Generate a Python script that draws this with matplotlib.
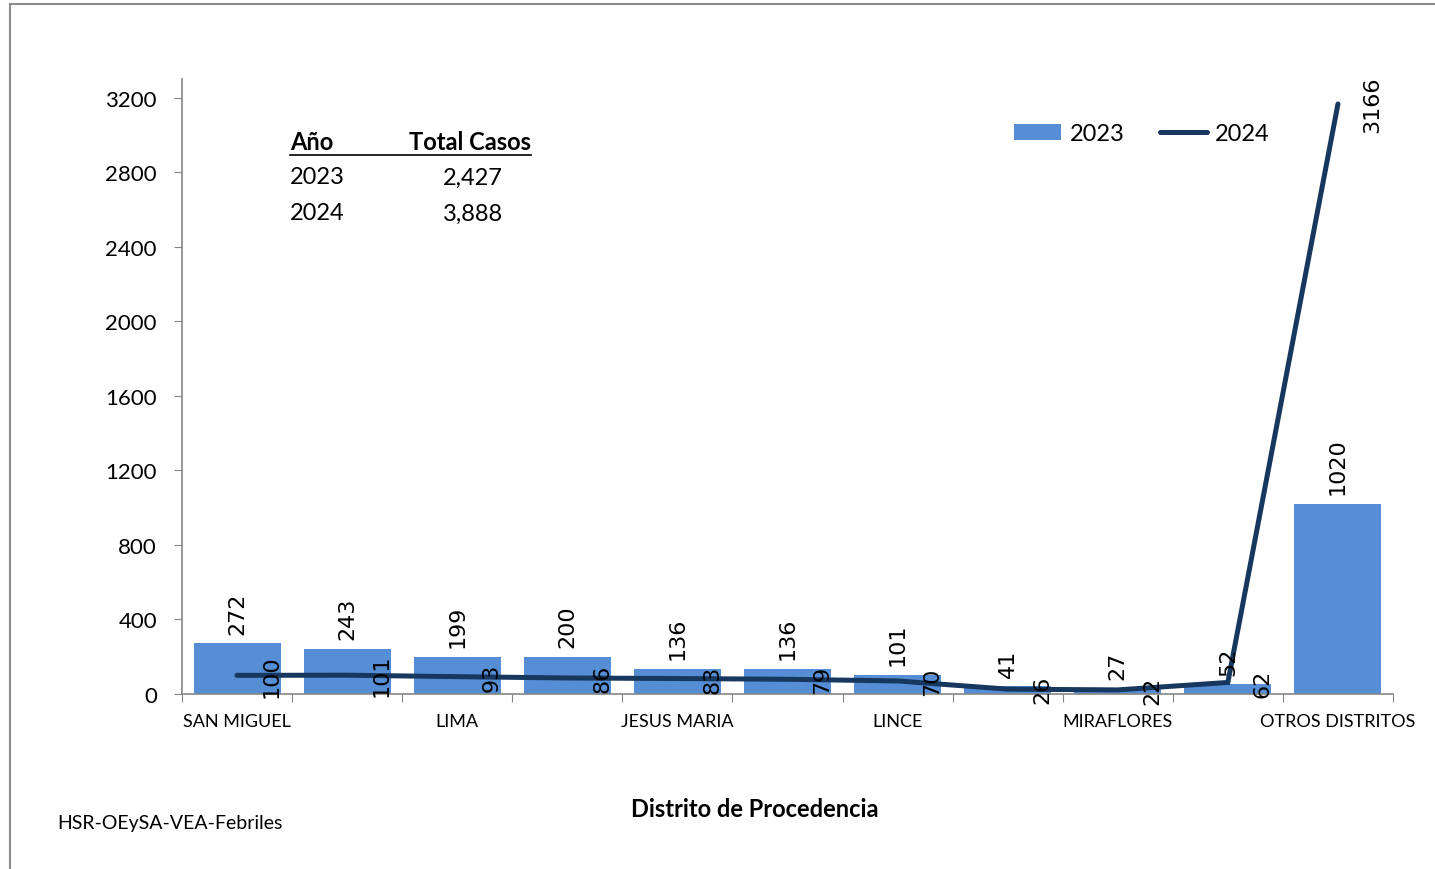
import matplotlib
matplotlib.use("Agg")
import matplotlib.pyplot as plt
from matplotlib.lines import Line2D
from matplotlib.patches import Patch

# ------------------------------------------------------------
# Data
# ------------------------------------------------------------
districts = [
    "SAN MIGUEL", "BREÑA", "LIMA", "PUEBLO LIBRE", "JESUS MARIA",
    "LA VICTORIA", "LINCE", "SAN ISIDRO", "MIRAFLORES", "SURQUILLO",
    "OTROS DISTRITOS",
]
cases_2023 = [272, 243, 199, 200, 136, 136, 101, 41, 27, 52, 1020]
cases_2024 = [100, 101, 93, 86, 83, 79, 70, 26, 22, 62, 3166]
years = ["2023", "2024"]
totals = ["2,427", "3,888"]
y_ticks = [0, 400, 800, 1200, 1600, 2000, 2400, 2800, 3200]

BAR_COLOR = "#558ED5"
LINE_COLOR = "#17375E"
AXIS_COLOR = "#868686"
FONT = "Lato"

plt.rcParams["font.family"] = [FONT, "DejaVu Sans"]

fig = plt.figure(figsize=(14.35, 8.7), dpi=100)
ax = fig.add_axes([182 / 1435, 1 - 695 / 870, (1393 - 182) / 1435, (695 - 80) / 870])

x = list(range(len(districts)))

ax.bar(x, cases_2023, width=0.79, color=BAR_COLOR, zorder=2)
ax.plot(x, cases_2024, color=LINE_COLOR, linewidth=3.6,
        solid_capstyle="round", solid_joinstyle="miter", zorder=3)

# data labels
for i, v in enumerate(cases_2023):
    ax.annotate(str(v), (i, v), xytext=(0, 7), textcoords="offset points",
                rotation=90, ha="center", va="bottom", fontsize=16,
                family="DejaVu Sans", zorder=4)
for i, v in enumerate(cases_2024):
    ax.annotate(str(v), (i, v), xytext=(25, 0), textcoords="offset points",
                rotation=90, ha="center", va="center", fontsize=16,
                family="DejaVu Sans", zorder=4)

ax.set_xlim(-0.5, len(districts) - 0.5)
ax.set_ylim(0, 3300)
ax.set_yticks(y_ticks)
ax.tick_params(axis="y", labelsize=16, length=6, color=AXIS_COLOR, pad=12)

# category ticks on boundaries, labels every other category
ax.set_xticks([i - 0.5 for i in range(len(districts) + 1)])
ax.set_xticklabels([])
ax.set_xticks(x[::2], minor=True)
ax.set_xticklabels(districts[::2], minor=True, fontsize=13)
ax.tick_params(axis="x", which="major", length=6, color=AXIS_COLOR)
ax.tick_params(axis="x", which="minor", length=0, pad=14)

for side in ["top", "right"]:
    ax.spines[side].set_visible(False)
for side in ["left", "bottom"]:
    ax.spines[side].set_color(AXIS_COLOR)
    ax.spines[side].set_linewidth(1.2)

# axis title
fig.text(755 / 1435, 1 - 810 / 870, "Distrito de Procedencia", fontsize=17,
         fontweight="bold", ha="center", va="center")

# legend
handles = [Patch(facecolor=BAR_COLOR, edgecolor="none"),
           Line2D([0], [0], color=LINE_COLOR, linewidth=3.6, solid_capstyle="round")]
ax.legend(handles, years, loc="center left", bbox_to_anchor=(0.687, 0.9106), ncol=2,
          frameon=False, fontsize=17, handlelength=2.0, handleheight=0.7,
          columnspacing=1.5, handletextpad=0.35, borderpad=0, borderaxespad=0)

# totals table
fig.text(290 / 1435, 1 - 143 / 870, "Año", fontsize=17, fontweight="bold", va="center")
fig.text(531 / 1435, 1 - 143 / 870, "Total Casos", fontsize=17, fontweight="bold",
         va="center", ha="right")
fig.add_artist(Line2D([290 / 1435, 531 / 1435], [1 - 156 / 870, 1 - 156 / 870],
                      color="black", linewidth=1.2))
for k, (yr, tot) in enumerate(zip(years, totals)):
    yy = 1 - (178 + 36 * k) / 870
    fig.text(290 / 1435, yy, yr, fontsize=17, va="center")
    fig.text(503 / 1435, yy, tot, fontsize=17, va="center", ha="right")

fig.text(57 / 1435, 1 - 824 / 870, "HSR-OEySA-VEA-Febriles", fontsize=14, va="center")

# outer frame (left and top edges)
fig.add_artist(Line2D([10 / 1435, 10 / 1435], [0, 1 - 5 / 870], color="#8c8c8c", linewidth=1.5))
fig.add_artist(Line2D([10 / 1435, 1], [1 - 5 / 870, 1 - 5 / 870], color="#8c8c8c", linewidth=1.5))

fig.savefig("out.png", dpi=100)
